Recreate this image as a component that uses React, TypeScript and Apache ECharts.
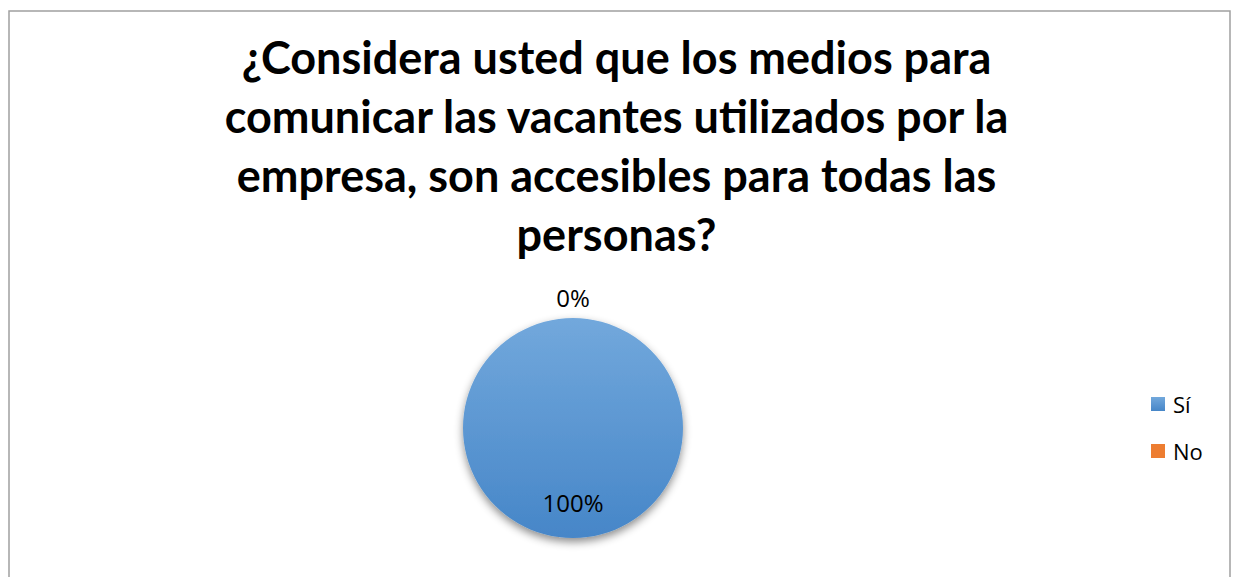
import React, { useEffect, useRef } from "react";
import * as echarts from "echarts";

const titleLines = [
  "¿Considera usted que los medios para",
  "comunicar las vacantes utilizados por la",
  "empresa, son accesibles para todas las",
  "personas?",
];
const categories = ["Sí", "No"];
const values = [100, 0];
const colors = ["#5b9bd5", "#ed7d31"];

export default function App() {
  const ref = useRef<HTMLDivElement>(null);
  useEffect(() => {
    if (!ref.current) return;
    document.body.style.margin = "0";
    document.body.style.overflow = "hidden";
    const chart = echarts.init(ref.current, undefined, { renderer: "svg" });
    const font = "Lato, 'Open Sans', sans-serif";
    const smallFont = "'Open Sans', Lato, sans-serif";
    chart.setOption({
      animation: false,
      backgroundColor: "#ffffff",
      title: {
        text: titleLines.join("\n"),
        left: "center",
        top: 22,
        textStyle: {
          fontFamily: font,
          fontWeight: "bold",
          fontSize: 45,
          lineHeight: 59,
          color: "#000000",
        },
      },
      legend: {
        orient: "vertical",
        left: 1151,
        top: 393,
        padding: 0,
        itemWidth: 14,
        itemHeight: 14,
        itemGap: 25,
        icon: "rect",
        textStyle: {
          fontFamily: smallFont,
          fontSize: 22,
          color: "#000000",
          padding: [0, 0, 0, 3],
        },
        data: categories,
      },
      graphic: [
        {
          type: "rect",
          shape: { x: 9, y: 11, width: 1221, height: 700 },
          style: { fill: "none", stroke: "#a0a0a0", lineWidth: 1.5 },
          silent: true,
        },
      ],
      series: [
        {
          type: "pie",
          center: [573, 428],
          radius: [0, 110],
          startAngle: 90,
          clockwise: true,
          data: categories.map((name, i) => ({
            name,
            value: values[i],
            itemStyle: {
              color:
                i === 0
                  ? new echarts.graphic.LinearGradient(0, 0, 0, 1, [
                      { offset: 0, color: "#72a8dc" },
                      { offset: 1, color: "#4686c8" },
                    ])
                  : colors[1],
            },
          })),
          itemStyle: {
            shadowBlur: 8,
            shadowOffsetY: 4,
            shadowColor: "rgba(0,0,0,0.45)",
          },
          label: {
            show: true,
            position: "inside",
            formatter: (p: any) => Math.round(p.percent) + "%",
            fontFamily: smallFont,
            fontSize: 24,
            color: "#000000",
          },
          labelLine: { show: false },
          labelLayout: (p: any) => ({ dy: p.dataIndex === 0 ? 16 : -73 }),
          emphasis: { disabled: true },
        },
      ],
    });
    return () => chart.dispose();
  }, []);
  return <div ref={ref} style={{ width: 1233, height: 577 }} />;
}
